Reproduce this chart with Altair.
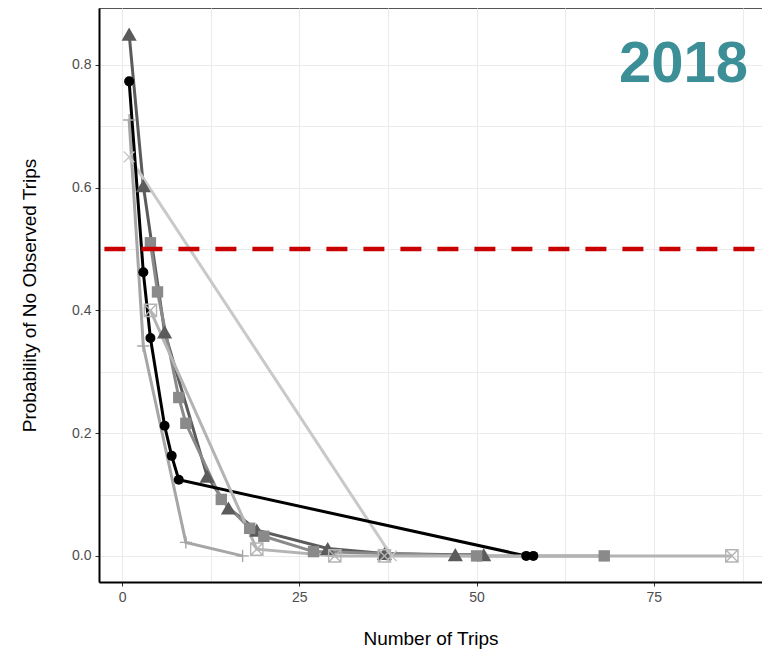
import altair as alt
import pandas as pd

# ---- data ----
circle_x = [1, 3, 4, 6, 7, 8, 57, 58]
circle_y = [0.773, 0.462, 0.355, 0.212, 0.163, 0.124, 0.0, 0.0]

tri_x = [1, 3, 6, 12, 15, 19, 29, 37, 47, 51]
tri_y = [0.85, 0.603, 0.365, 0.13, 0.078, 0.042, 0.012, 0.004, 0.002, 0.002]

sq_x = [4, 5, 8, 9, 14, 18, 20, 27, 50, 68]
sq_y = [0.51, 0.43, 0.258, 0.216, 0.092, 0.045, 0.032, 0.007, 0.0, 0.0]

plus_x = [1, 3, 9, 17]
plus_y = [0.71, 0.342, 0.022, 0.0]

cross_x = [1, 38]
cross_y = [0.65, 0.0]

box_x = [4, 19, 30, 37, 86]
box_y = [0.40, 0.011, 0.0, 0.0, 0.0]

threshold = [0.5]
year_label = ["2018"]

x_ticks = [0, 12.5, 25, 37.5, 50, 62.5, 75, 87.5]
y_ticks = [0.0, 0.1, 0.2, 0.3, 0.4, 0.5, 0.6, 0.7, 0.8]

W, H = 663, 574
FONT = "Liberation Sans"

xscale = alt.Scale(domain=[-3.25, 90.25], nice=False, zero=False)
yscale = alt.Scale(domain=[-0.0425, 0.8925], nice=False, zero=False)

xaxis = alt.Axis(
    values=x_ticks,
    labelExpr="datum.value % 25 === 0 ? format(datum.value, 'd') : ''",
    tickOpacity={"condition": {"test": "datum.value % 25 !== 0", "value": 0}, "value": 1},
    title="Number of Trips",
    titlePadding=25,
)
yaxis = alt.Axis(
    values=y_ticks,
    labelExpr="round(datum.value * 10) % 2 === 0 ? format(datum.value, '.1f') : ''",
    tickOpacity={"condition": {"test": "round(datum.value * 10) % 2 !== 0", "value": 0}, "value": 1},
    title="Probability of No Observed Trips",
    titlePadding=32,
)


def enc(ch):
    return ch.encode(
        x=alt.X("x:Q", scale=xscale, axis=xaxis),
        y=alt.Y("y:Q", scale=yscale, axis=yaxis),
    )


def df(xs, ys):
    return pd.DataFrame({"x": xs, "y": ys})


BOX = "M-1,-1L1,-1L1,1L-1,1Z M-1,-1L1,1 M-1,1L1,-1"
PLUS = "M-1,0L1,0 M0,-1L0,1"
XSHAPE = "M-0.75,-0.75L0.75,0.75 M-0.75,0.75L0.75,-0.75"

series = [
    # (xs, ys, color, kind, shape, size)
    (tri_x, tri_y, "#5b5b5b", "filled", "triangle-up", 230),
    (sq_x, sq_y, "#8a8a8a", "filled", "square", 130),
    (plus_x, plus_y, "#a6a6a6", "stroke", PLUS, 150),
    (cross_x, cross_y, "#c9c9c9", "stroke", XSHAPE, 200),
    (circle_x, circle_y, "#000000", "filled", "circle", 100),
    (box_x, box_y, "#b4b4b4", "stroke", BOX, 150),
]

line_layers = []
point_layers = []
for xs, ys, col, kind, shp, sz in series:
    d = df(xs, ys)
    line_layers.append(enc(alt.Chart(d).mark_line(color=col, strokeWidth=3)))
    if kind == "filled":
        pm = alt.Chart(d).mark_point(shape=shp, filled=True, color=col, size=sz, opacity=1)
    else:
        pm = alt.Chart(d).mark_point(shape=shp, filled=False, color=col, size=sz,
                                     strokeWidth=1.4, opacity=1)
    point_layers.append(enc(pm))

rule = alt.Chart(pd.DataFrame({"y": threshold})).mark_rule(
    color="#c80000", strokeWidth=4.5, strokeDash=[21, 16], strokeDashOffset=31.6
).encode(
    y=alt.Y("y:Q", scale=yscale, axis=yaxis),
    x=alt.value(0),
    x2=alt.value(W),
)

year = alt.Chart(pd.DataFrame({"t": year_label})).mark_text(
    align="right", baseline="alphabetic",
    font="Liberation Sans, sans-serif",
    fontWeight="bold", fontSize=58, color="#3d8f97"
).encode(text="t:N", x=alt.value(W - 14), y=alt.value(74))

chart = alt.layer(*line_layers, *point_layers, rule, year).properties(
    width=W, height=H,
    autosize=alt.AutoSizeParams(type="none"),
    padding={"left": 91, "top": 0, "right": 0, "bottom": 69},
).configure_view(
    stroke="#555555", strokeWidth=1
).configure_axis(
    domainColor="#000000", domainWidth=2,
    gridColor="#ebebeb", gridWidth=1.1,
    tickColor="#333333", tickSize=4, tickWidth=1,
    labelFont=FONT, labelFontSize=14, labelColor="#4d4d4d", labelPadding=4,
    titleFont=FONT, titleFontSize=19, titleColor="#000000", titleFontWeight="normal",
)

chart.save("out.html", embed_options={"renderer": "svg", "actions": False})
